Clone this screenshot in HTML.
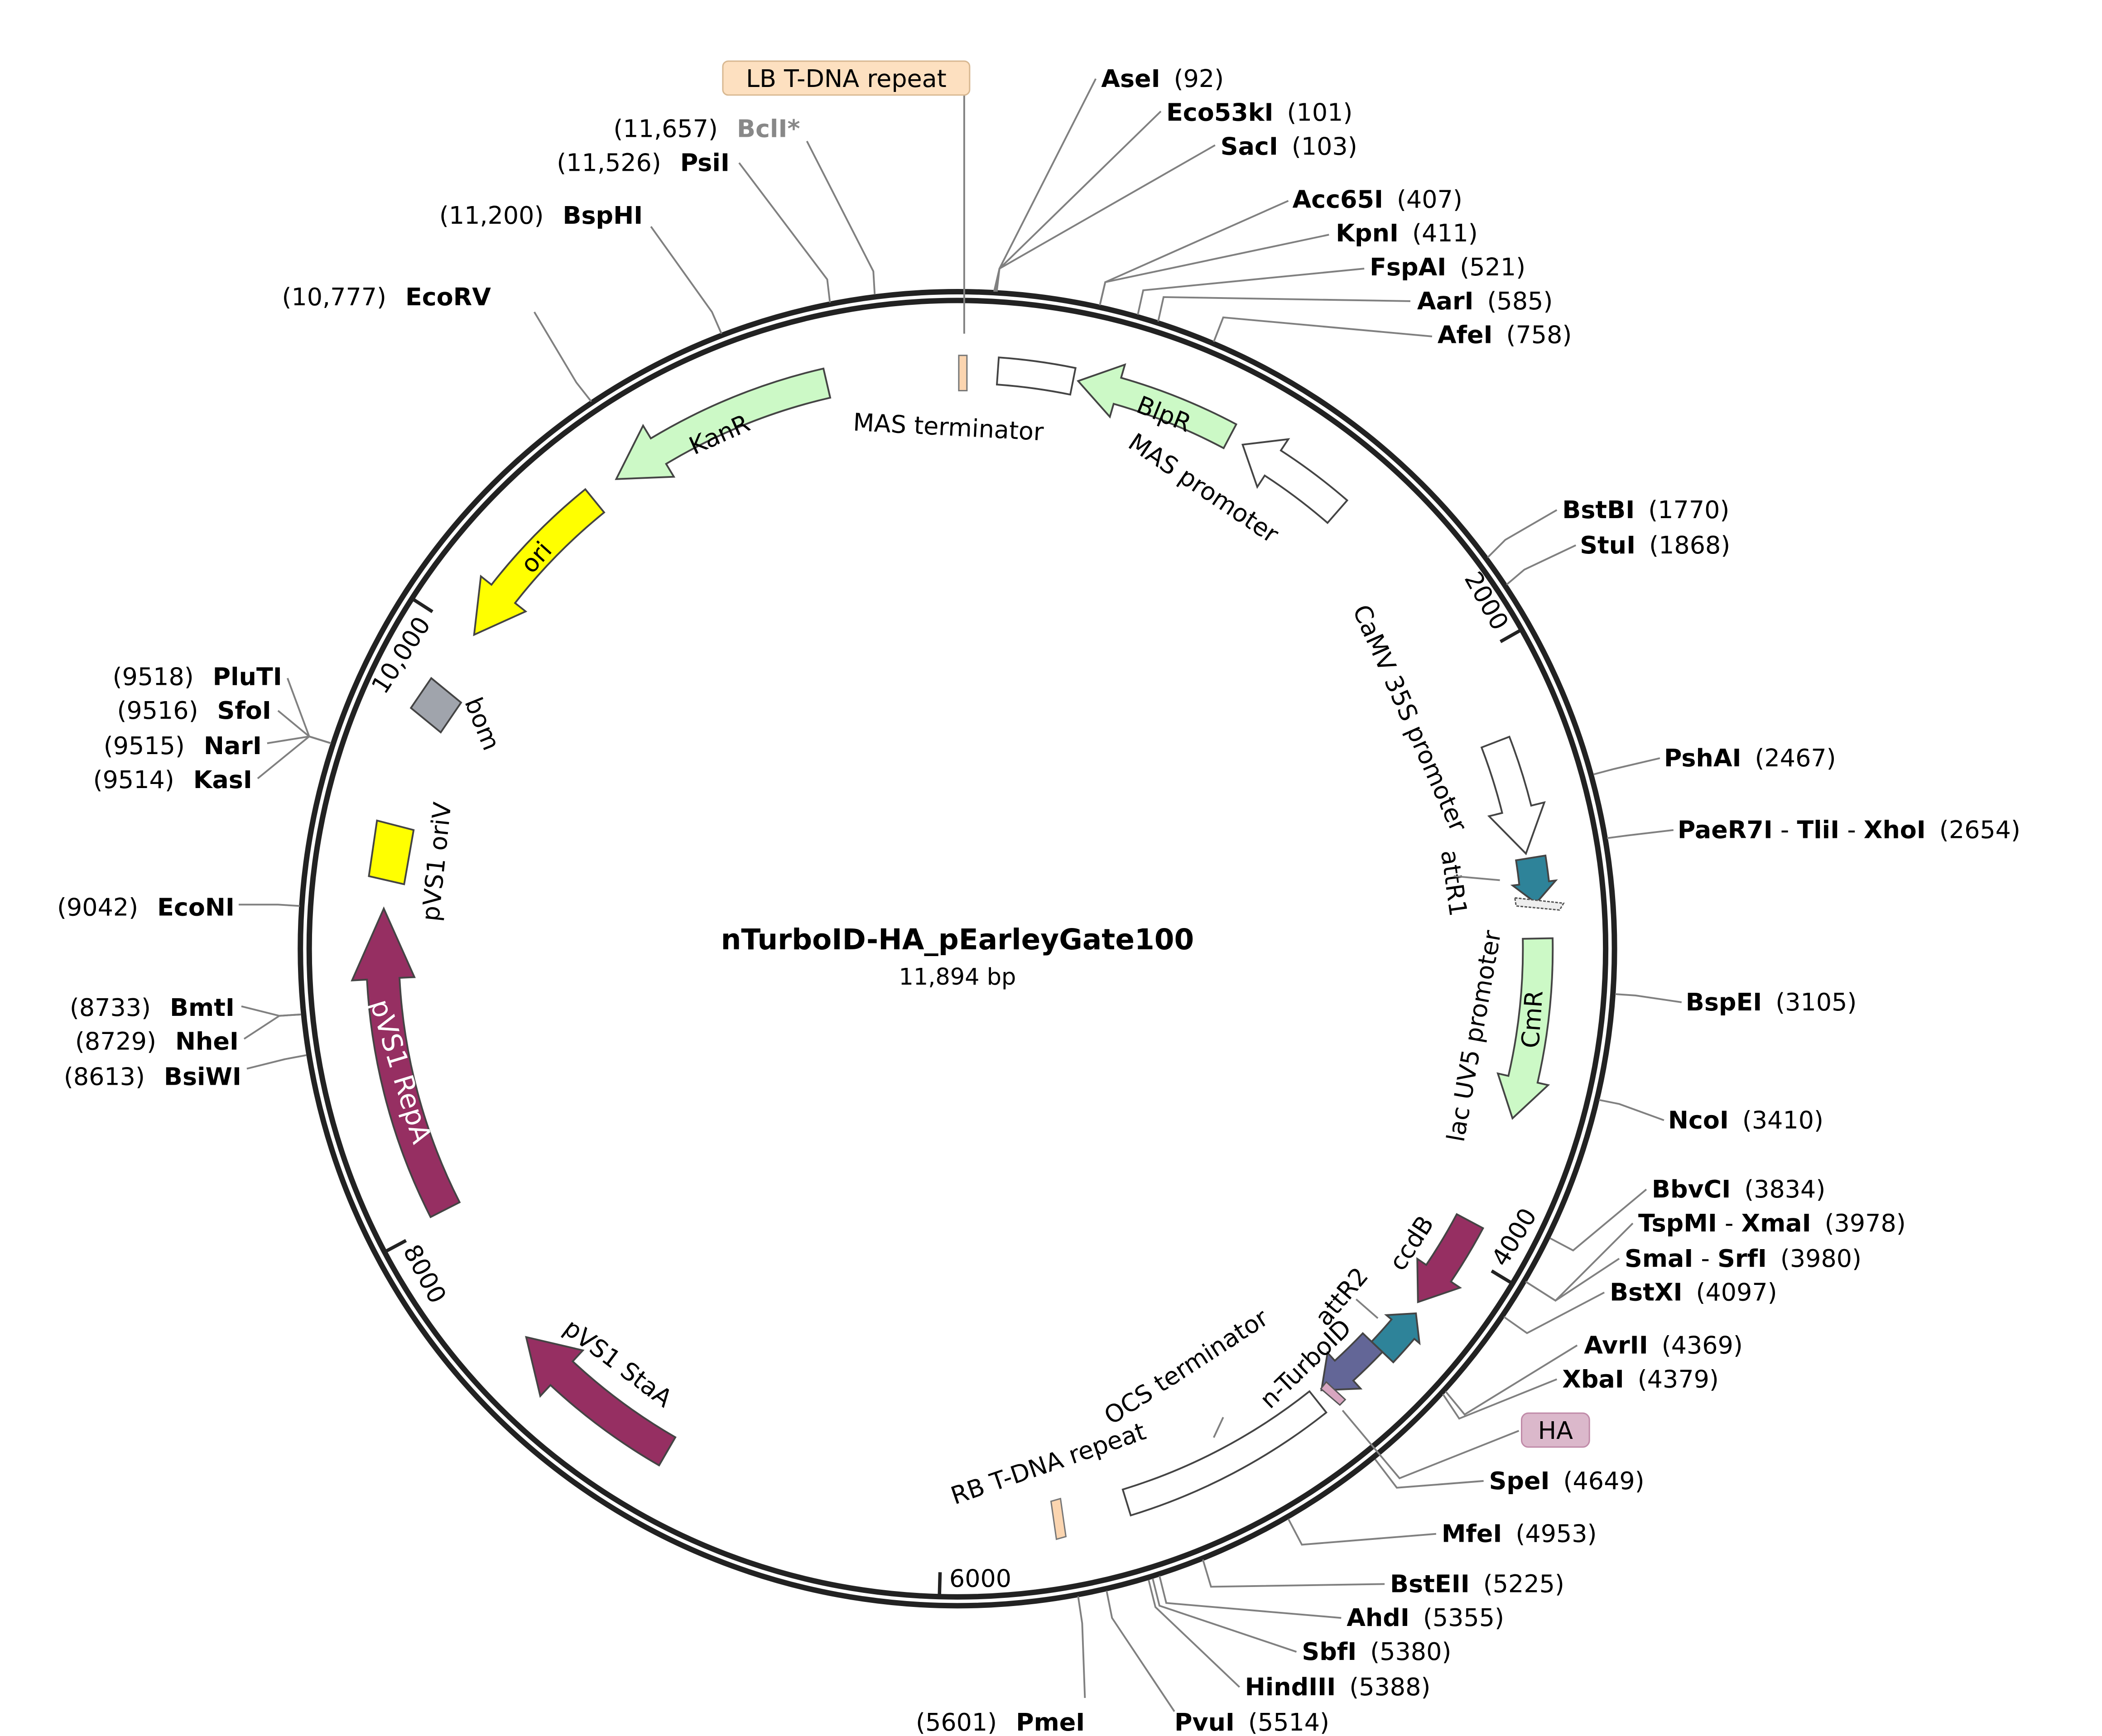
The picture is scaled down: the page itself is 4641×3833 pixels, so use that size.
<!DOCTYPE html>
<html><head><meta charset="utf-8"><style>
html,body{margin:0;padding:0;background:#fff;}
svg{display:block;}
text{font-family:"DejaVu Sans","Liberation Sans",sans-serif;font-size:18px;fill:#000;}
.b{font-weight:bold;}
.ln{stroke:#808080;stroke-width:1.3;fill:none;}
.f{stroke:#444;stroke-width:1.3;}
.fl{font-size:18px;}
</style></head><body>
<svg width="4641" height="3833" viewBox="0 0 1550 1280" xmlns="http://www.w3.org/2000/svg">
<rect x="0" y="0" width="1550" height="1280" fill="#fff"/>

<circle cx="706" cy="699.5" r="484.5" fill="none" stroke="#222" stroke-width="4"/>
<circle cx="706" cy="699.5" r="478" fill="none" stroke="#222" stroke-width="4"/>

<g stroke="#222" stroke-width="2.5">
<line x1="1122.1" y1="464.2" x2="1106.4" y2="473.1"/>
<line x1="1115.3" y1="946.4" x2="1099.9" y2="937.1"/>
<line x1="692.7" y1="1177.3" x2="693.2" y2="1159.3"/>
<line x1="283.5" y1="923.2" x2="299.4" y2="914.7"/>
<line x1="303.8" y1="441.3" x2="318.9" y2="451"/>
</g>
<text transform="translate(1102,466) rotate(60.5)" text-anchor="end">2000</text>
<text transform="translate(1110,935) rotate(-59)" text-anchor="start">4000</text>
<text x="700" y="1170">6000</text>
<text transform="translate(297,922) rotate(62)">8000</text>
<text transform="translate(318,460) rotate(-57)" text-anchor="end">10,000</text>

<path class="f" fill="#ccf9c6" d="M607.2,271.7 A439,439 0 0 0 479.9,323.2 L474.2,313.8 L454.4,353.2 L496.9,351.5 L491.2,342.0 A417,417 0 0 1 612.2,293.2 Z"/>
<path class="f" fill="#ffff00" d="M431.6,360.7 A436,436 0 0 0 362.4,431.1 L354.6,424.9 L349.6,468.0 L387.6,450.8 L379.8,444.6 A414,414 0 0 1 445.5,377.8 Z"/>
<path class="f" fill="#962f62" d="M317.5,897.4 A436,436 0 0 1 270.6,722.3 L259.6,722.9 L283.0,669.9 L305.6,720.5 L294.6,721.0 A412,412 0 0 0 338.9,886.5 Z"/>
<path class="f" fill="#962f62" d="M486,1080.5 A440,440 0 0 1 405.9,1021.3 L398.4,1029.4 L388.0,985.9 L429.8,995.7 L422.3,1003.8 A416,416 0 0 0 498,1059.8 Z"/>
<path class="f" fill="#ccf9c6" d="M911.6,312.8 A438,438 0 0 0 826.7,278.5 L829.5,268.8 L795.0,280.9 L818.4,307.3 L821.2,297.7 A418,418 0 0 1 902.3,330.4 Z"/>
<path class="f" fill="#fff" d="M993.4,368.9 A438,438 0 0 0 944.5,332.1 L950.0,323.8 L916.3,327.8 L927.1,359.0 L932.6,350.6 A416,416 0 0 1 978.9,385.5 Z"/>
<path class="f" fill="#fff" d="M736.5,263.5 A437,437 0 0 1 793.1,271.3 L789.2,290.9 A417,417 0 0 0 735.1,283.5 Z"/>
<rect x="707" y="262" width="6" height="26" fill="#fbd5b0" stroke="#777" stroke-width="1"/>
<path class="f" fill="#fff" d="M1113.0,543.2 A436,436 0 0 1 1129.1,594.0 L1138.8,591.6 L1125.2,629.4 L1098.0,601.8 L1107.7,599.4 A414,414 0 0 0 1092.5,551.1 Z"/>
<path class="f" fill="#2e8399" d="M1139.6,630.8 A439,439 0 0 1 1142.2,649.8 L1147.2,649.2 L1132.7,665.9 L1115.4,652.9 L1120.3,652.3 A417,417 0 0 0 1117.9,634.3 Z"/>
<path d="M1117,662 L1153,666 L1150,671 L1118,668 Z" fill="#eee" stroke="#555" stroke-width="1" stroke-dasharray="2,1"/>
<path class="f" fill="#ccf9c6" d="M1144.9,691.8 A439,439 0 0 1 1133.8,798.3 L1141.6,800.1 L1115.3,824.6 L1104.5,791.5 L1112.3,793.3 A417,417 0 0 0 1122.9,692.2 Z"/>
<path class="f" fill="#962f62" d="M1093.6,905.6 A439,439 0 0 1 1069.9,945.0 L1076.6,949.5 L1045.6,960.1 L1045.1,928.2 L1051.7,932.7 A417,417 0 0 0 1074.2,895.3 Z"/>
<path class="f" fill="#2e8399" d="M1027.4,1004.5 A443,443 0 0 0 1042.9,987.2 L1046.7,990.4 L1044.1,968.4 L1022.3,969.7 L1026.1,972.9 A421,421 0 0 1 1011.4,989.3 Z"/>
<path class="f" fill="#636697" d="M1019.4,996.9 A432,432 0 0 1 997.9,1018.0 L1003.3,1023.9 L974.4,1025.1 L978.9,997.4 L984.3,1003.3 A412,412 0 0 0 1004.9,983.1 Z"/>
<path d="M978,1019 L992,1032 L988,1036 L974,1024 Z" fill="#d8a6c0" stroke="#555" stroke-width="1"/>
<path class="f" fill="#fff" d="M978.0,1041.5 A437,437 0 0 1 833.8,1117.4 L827.9,1098.3 A417,417 0 0 0 965.6,1025.9 Z"/>
<path d="M775,1107 L782,1105 L786,1133 L779,1135 Z" fill="#fbd5b0" stroke="#777" stroke-width="1"/>
<path d="M318,500 L340,518 L325,540 L303,522 Z" fill="#a0a4ac" stroke="#444" stroke-width="1.3"/>
<path d="M278,605 L305,612 L298,652 L272,646 Z" fill="#ffff00" stroke="#444" stroke-width="1.3"/>

<text class="fl" transform="translate(533,326) rotate(-24)" text-anchor="middle">KanR</text>
<text class="fl" transform="translate(400,415) rotate(-48)" text-anchor="middle">ori</text>
<text class="fl" transform="translate(350,536) rotate(68)" text-anchor="middle">bom</text>
<text class="fl" transform="translate(328,636) rotate(-84)" text-anchor="middle">pVS1 oriV</text>
<text class="fl" transform="translate(289,792) rotate(73)" text-anchor="middle" style="fill:#fff;font-size:20px">pVS1 RepA</text>
<text class="fl" transform="translate(452,1010) rotate(37)" text-anchor="middle">pVS1 StaA</text>
<text class="fl" transform="translate(699,321) rotate(3)" text-anchor="middle">MAS terminator</text>
<text class="fl" transform="translate(856,311) rotate(22)" text-anchor="middle">BlpR</text>
<text class="fl" transform="translate(884,365) rotate(34)" text-anchor="middle">MAS promoter</text>
<text class="fl" transform="translate(1034,532) rotate(66)" text-anchor="middle">CaMV 35S promoter</text>
<text class="fl" transform="translate(1066,652) rotate(82)" text-anchor="middle">attR1</text>
<text class="fl" transform="translate(1093,765) rotate(-80)" text-anchor="middle">lac UV5 promoter</text>
<text class="fl" transform="translate(1136,752) rotate(-86)" text-anchor="middle">CmR</text>
<text class="fl" transform="translate(1046,920) rotate(-57)" text-anchor="middle">ccdB</text>
<text class="fl" transform="translate(994,960) rotate(-50)" text-anchor="middle">attR2</text>
<text class="fl" transform="translate(967,1010) rotate(-44)" text-anchor="middle">n-TurboID</text>
<text class="fl" transform="translate(878,1013) rotate(-33)" text-anchor="middle">OCS terminator</text>
<text class="fl" transform="translate(775,1085) rotate(-19)" text-anchor="middle">RB T-DNA repeat</text>
<line class="ln" x1="1072" y1="646" x2="1106" y2="649"/>
<line class="ln" x1="1000" y1="958" x2="1016" y2="972"/>
<line class="ln" x1="895" y1="1060" x2="902" y2="1045"/>

<text x="706" y="700" text-anchor="middle" class="b" style="font-size:21px">nTurboID-HA_pEarleyGate100</text>
<text x="706" y="726" text-anchor="middle" style="font-size:17px">11,894 bp</text>

<line class="ln" x1="711" y1="70" x2="711" y2="246"/>
<rect x="533" y="45" width="182" height="25" rx="4" fill="#fde0c0" stroke="#d8b891"/>
<text x="624" y="64" text-anchor="middle">LB T-DNA repeat</text>

<rect x="1122" y="1042" width="50" height="25" rx="5" fill="#dbb8cb" stroke="#c08aa8"/>
<text x="1147" y="1061" text-anchor="middle">HA</text>
<polyline class="ln" points="990,1040 1032,1090 1120,1055"/>

<g class="ln">
<polyline points="733,215 737,198 808,58"/>
<polyline points="734,215 737,198 856,82"/>
<polyline points="735,215 737,198 896,107"/>
<polyline points="811,225 815,208 950,148"/>
<polyline points="811,225 815,208 980,173"/>
<polyline points="839,232 843,214 1006,198"/>
<polyline points="854,237 858,219 1040,222"/>
<polyline points="895,252 902,234 1056,248"/>
<polyline points="1097,411 1110,398 1148,376"/>
<polyline points="1111,431 1124,420 1162,402"/>
<polyline points="1175,571 1190,567 1224,559"/>
<polyline points="1185,618 1200,616 1234,612"/>
<polyline points="1191,733 1206,734 1240,739"/>
<polyline points="1179,811 1194,814 1227,826"/>
<polyline points="1143,913 1160,922 1214,877"/>
<polyline points="1125,945 1147,959 1204,902"/>
<polyline points="1125,945 1147,959 1194,928"/>
<polyline points="1109,971 1126,983 1183,953"/>
<polyline points="1066,1026 1080,1043 1163,992"/>
<polyline points="1064,1028 1076,1046 1148,1017"/>
<polyline points="1014,1076 1030,1097 1094,1092"/>
<polyline points="950,1120 960,1139 1059,1131"/>
<polyline points="887,1150 893,1170 1021,1168"/>
<polyline points="855,1162 860,1182 989,1193"/>
<polyline points="850,1164 855,1184 956,1218"/>
<polyline points="847,1165 852,1185 914,1244"/>
<polyline points="816,1173 820,1193 866,1262"/>
<polyline points="795,1177 798,1197 800,1252"/>
<polyline points="645,217 644,200 595,104"/>
<polyline points="612,223 610,206 545,120"/>
<polyline points="532,246 525,230 480,167"/>
<polyline points="436,296 425,282 394,230"/>
<polyline points="244,548 228,543 212,500"/>
<polyline points="244,548 228,543 205,524"/>
<polyline points="244,548 228,543 197,548"/>
<polyline points="244,548 228,543 190,574"/>
<polyline points="221,668 205,667 176,667"/>
<polyline points="222,748 206,749 178,742"/>
<polyline points="222,748 206,749 180,766"/>
<polyline points="226,778 210,781 182,788"/>
</g>

<g>
<text x="812" y="64"><tspan class="b">AseI</tspan><tspan dx="10">(92)</tspan></text>
<text x="860" y="89"><tspan class="b">Eco53kI</tspan><tspan dx="10">(101)</tspan></text>
<text x="900" y="114"><tspan class="b">SacI</tspan><tspan dx="10">(103)</tspan></text>
<text x="953" y="153"><tspan class="b">Acc65I</tspan><tspan dx="10">(407)</tspan></text>
<text x="985" y="178"><tspan class="b">KpnI</tspan><tspan dx="10">(411)</tspan></text>
<text x="1010" y="203"><tspan class="b">FspAI</tspan><tspan dx="10">(521)</tspan></text>
<text x="1045" y="228"><tspan class="b">AarI</tspan><tspan dx="10">(585)</tspan></text>
<text x="1060" y="253"><tspan class="b">AfeI</tspan><tspan dx="10">(758)</tspan></text>
<text x="1152" y="382"><tspan class="b">BstBI</tspan><tspan dx="10">(1770)</tspan></text>
<text x="1165" y="408"><tspan class="b">StuI</tspan><tspan dx="10">(1868)</tspan></text>
<text x="1227" y="565"><tspan class="b">PshAI</tspan><tspan dx="10">(2467)</tspan></text>
<text x="1237" y="618"><tspan class="b">PaeR7I</tspan> - <tspan class="b">TliI</tspan> - <tspan class="b">XhoI</tspan><tspan dx="10">(2654)</tspan></text>
<text x="1243" y="745"><tspan class="b">BspEI</tspan><tspan dx="10">(3105)</tspan></text>
<text x="1230" y="832"><tspan class="b">NcoI</tspan><tspan dx="10">(3410)</tspan></text>
<text x="1218" y="883"><tspan class="b">BbvCI</tspan><tspan dx="10">(3834)</tspan></text>
<text x="1208" y="908"><tspan class="b">TspMI</tspan> - <tspan class="b">XmaI</tspan><tspan dx="10">(3978)</tspan></text>
<text x="1198" y="934"><tspan class="b">SmaI</tspan> - <tspan class="b">SrfI</tspan><tspan dx="10">(3980)</tspan></text>
<text x="1187" y="959"><tspan class="b">BstXI</tspan><tspan dx="10">(4097)</tspan></text>
<text x="1168" y="998"><tspan class="b">AvrII</tspan><tspan dx="10">(4369)</tspan></text>
<text x="1152" y="1023"><tspan class="b">XbaI</tspan><tspan dx="10">(4379)</tspan></text>
<text x="1098" y="1098"><tspan class="b">SpeI</tspan><tspan dx="10">(4649)</tspan></text>
<text x="1063" y="1137"><tspan class="b">MfeI</tspan><tspan dx="10">(4953)</tspan></text>
<text x="1025" y="1174"><tspan class="b">BstEII</tspan><tspan dx="10">(5225)</tspan></text>
<text x="993" y="1199"><tspan class="b">AhdI</tspan><tspan dx="10">(5355)</tspan></text>
<text x="960" y="1224"><tspan class="b">SbfI</tspan><tspan dx="10">(5380)</tspan></text>
<text x="918" y="1250"><tspan class="b">HindIII</tspan><tspan dx="10">(5388)</tspan></text>
<text x="866" y="1276"><tspan class="b">PvuI</tspan><tspan dx="10">(5514)</tspan></text>
</g>
<g text-anchor="end">
<text x="800" y="1276"><tspan>(5601)</tspan><tspan dx="14" class="b">PmeI</tspan></text>
<text x="590" y="101"><tspan>(11,657)</tspan><tspan dx="14" class="b" style="fill:#888">BclI*</tspan></text>
<text x="538" y="126"><tspan>(11,526)</tspan><tspan dx="14" class="b">PsiI</tspan></text>
<text x="474" y="165"><tspan>(11,200)</tspan><tspan dx="14" class="b">BspHI</tspan></text>
<text x="362" y="225"><tspan>(10,777)</tspan><tspan dx="14" class="b">EcoRV</tspan></text>
<text x="208" y="505"><tspan>(9518)</tspan><tspan dx="14" class="b">PluTI</tspan></text>
<text x="200" y="530"><tspan>(9516)</tspan><tspan dx="14" class="b">SfoI</tspan></text>
<text x="193" y="556"><tspan>(9515)</tspan><tspan dx="14" class="b">NarI</tspan></text>
<text x="186" y="581"><tspan>(9514)</tspan><tspan dx="14" class="b">KasI</tspan></text>
<text x="173" y="675"><tspan>(9042)</tspan><tspan dx="14" class="b">EcoNI</tspan></text>
<text x="173" y="749"><tspan>(8733)</tspan><tspan dx="14" class="b">BmtI</tspan></text>
<text x="176" y="774"><tspan>(8729)</tspan><tspan dx="14" class="b">NheI</tspan></text>
<text x="178" y="800"><tspan>(8613)</tspan><tspan dx="14" class="b">BsiWI</tspan></text>
</g>
</svg>
</body></html>
